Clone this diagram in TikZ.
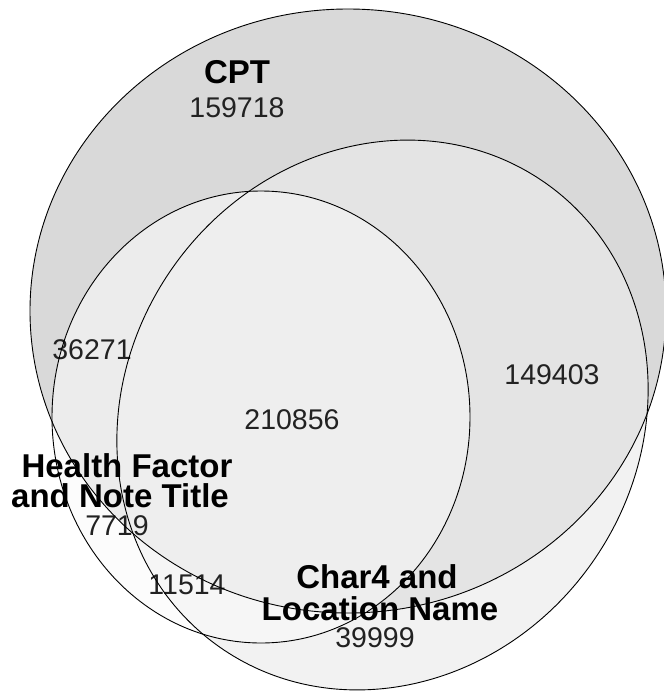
\documentclass[tikz,border=0pt]{standalone}
\usepackage{fontspec}
\setmainfont{Liberation Sans}
\definecolor{cptonly}{gray}{0.851}
\definecolor{cptcfour}{gray}{0.894}
\definecolor{cpthf}{gray}{0.925}
\definecolor{allthree}{gray}{0.933}
\definecolor{cfouronly}{gray}{0.949}
\definecolor{hfcfour}{gray}{0.965}
\definecolor{hfonly}{gray}{0.99}
\definecolor{numcol}{HTML}{222222}
\tikzset{
  setname/.style={font=\fontsize{33}{33}\selectfont\bfseries, text=black, inner sep=0pt},
  setnum/.style={font=\fontsize{28.5}{28.5}\selectfont, text=numcol, inner sep=0pt},
  outline/.style={draw=black, line width=0.9pt},
  cfourrot/.style={rotate around={55:(382.5,415)}}
}
\begin{document}
\begin{tikzpicture}[x=1pt,y=-1pt]
\useasboundingbox (0,0) rectangle (664,691);
\clip (0,0) rectangle (664,691);
% region fills
\fill[cfouronly, cfourrot] (382.5,415) ellipse [x radius=283.5, y radius=256.4];
\fill[hfonly] (261,417) ellipse [x radius=209, y radius=226];
\begin{scope}
  \clip (261,417) ellipse [x radius=209, y radius=226];
  \fill[hfcfour, cfourrot] (382.5,415) ellipse [x radius=283.5, y radius=256.4];
\end{scope}
\fill[cptonly] (348,311) ellipse [x radius=318, y radius=302];
\begin{scope}
  \clip (348,311) ellipse [x radius=318, y radius=302];
  \fill[cptcfour, cfourrot] (382.5,415) ellipse [x radius=283.5, y radius=256.4];
  \fill[cpthf] (261,417) ellipse [x radius=209, y radius=226];
  \clip (261,417) ellipse [x radius=209, y radius=226];
  \fill[allthree, cfourrot] (382.5,415) ellipse [x radius=283.5, y radius=256.4];
\end{scope}
% labels
\node[setname] (ncpt) at (237,72) {CPT};
\node[setnum] (vcpt) at (237,108) {159718};
\node[setnum] (vcpthf) at (92,350) {36271};
\node[setnum] (vcptc4) at (552,375) {149403};
\node[setnum] (vall) at (292,420) {210856};
\node[setname] (nhf1) at (127,466) {Health Factor};
\node[setname] (nhf2) at (120,496) {and Note Title};
\node[setnum] (vhf) at (117,526) {7719};
\node[setnum] (vhfc4) at (187,585) {11514};
\node[setname] (nc41) at (377,577) {Char4 and};
\node[setname] (nc42) at (380,609) {Location Name};
\node[setnum] (vc4) at (375,638) {39999};
% outlines
\draw[outline] (348,311) ellipse [x radius=318, y radius=302];
\draw[outline] (261,417) ellipse [x radius=209, y radius=226];
\draw[outline, cfourrot] (382.5,415) ellipse [x radius=283.5, y radius=256.4];
\end{tikzpicture}
\end{document}
